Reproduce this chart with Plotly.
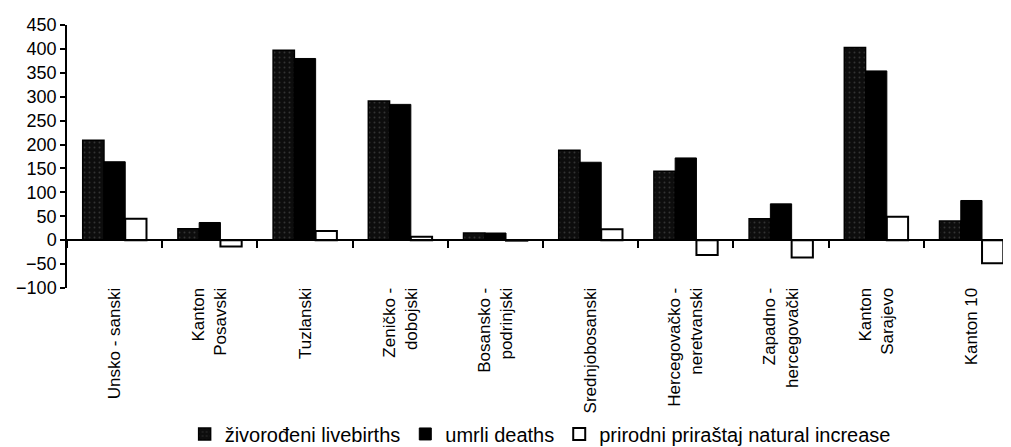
import plotly.graph_objects as go

categories = ["Unsko - sanski", "Kanton<br>Posavski", "Tuzlanski", "Zeničko -<br>dobojski",
              "Bosansko -<br>podrinjski", "Srednjobosanski", "Hercegovačko -<br>neretvanski",
              "Zapadno -<br>hercegovački", "Kanton<br>Sarajevo", "Kanton 10"]
livebirths = [209, 24, 397, 291, 15, 188, 144, 45, 403, 40]
deaths = [164, 37, 380, 284, 15, 163, 172, 76, 354, 83]
natural_increase = [45, -13, 19, 7, -1, 23, -31, -36, 49, -48]

series_names = ["živorođeni livebirths", "umrli deaths", "prirodni priraštaj natural increase"]
y_ticks = [-100, -50, 0, 50, 100, 150, 200, 250, 300, 350, 400, 450]

FONT = "Liberation Sans, Arial, sans-serif"

fig = go.Figure()
fig.add_trace(go.Bar(
    x=categories, y=livebirths, name=series_names[0],
    marker=dict(color="#0d0d0d", line=dict(color="black", width=1.5),
                pattern=dict(shape=".", fgcolor="#5a5a5a", bgcolor="#0d0d0d", size=5, solidity=0.12)),
))
fig.add_trace(go.Bar(
    x=categories, y=deaths, name=series_names[1],
    marker=dict(color="black", line=dict(color="black", width=1)),
))
fig.add_trace(go.Bar(
    x=categories, y=natural_increase, name=series_names[2],
    marker=dict(color="white", line=dict(color="black", width=2)),
))

ymin, ymax = -100, 450
fig.update_layout(
    width=1011, height=447,
    margin=dict(l=59, r=0, t=17, b=167, autoexpand=False),
    paper_bgcolor="white", plot_bgcolor="white",
    barmode="group", bargap=0.33, bargroupgap=0,
    font=dict(family=FONT, color="black"),
    showlegend=True,
    legend=dict(orientation="h", x=0.497, xanchor="center", y=-0.555, yanchor="middle",
                font=dict(size=20, family=FONT), itemwidth=30, tracegroupgap=0,
                bgcolor="rgba(0,0,0,0)"),
    xaxis=dict(
        type="category", range=[-0.5, 9.5],
        anchor="free", position=(0 - ymin) / (ymax - ymin),
        showline=True, linecolor="black", linewidth=1.5,
        ticks="outside", tickson="boundaries", ticklen=7, tickcolor="black", tickwidth=1.5,
        tickangle=-90, tickfont=dict(size=17, family=FONT),
        ticklabelstandoff=40,
        showgrid=False, zeroline=False,
    ),
    yaxis=dict(
        range=[ymin, ymax], tickvals=y_ticks,
        showline=True, linecolor="black", linewidth=1.5,
        ticks="outside", ticklen=5, tickcolor="black", tickwidth=1.5,
        tickfont=dict(size=18, family=FONT),
        showgrid=False, zeroline=False,
    ),
)

fig.write_html("out.html")
